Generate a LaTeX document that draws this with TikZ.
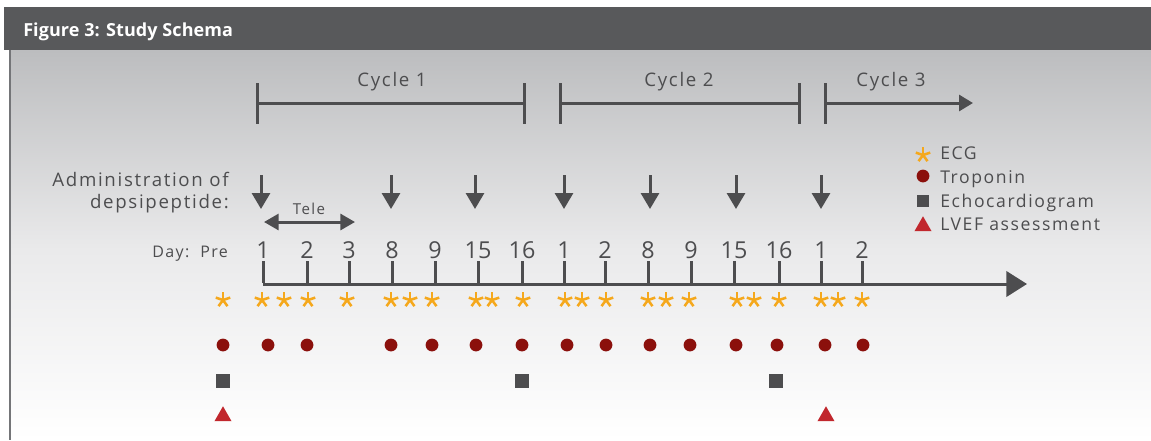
\documentclass[tikz,border=0pt]{standalone}
\usepackage{fontspec}
\setmainfont{Open Sans}[LetterSpace=9]
\newfontfamily\numfont{Open Sans}
\newfontfamily\titlefont{Open Sans}[LetterSpace=0.5]
\usetikzlibrary{arrows.meta}

\definecolor{hdr}{HTML}{58595B}
\definecolor{ink}{HTML}{4D4D4F}
\definecolor{ecg}{HTML}{F5A81C}
\definecolor{trop}{HTML}{8B100C}
\definecolor{lvef}{HTML}{C1272D}
\definecolor{bgtop}{HTML}{BCBDBF}
\definecolor{bgmid}{HTML}{EAEAEB}
\definecolor{frame}{HTML}{747578}

\newcommand{\fs}[1]{\fontsize{#1}{1.2\dimexpr#1\relax}\selectfont}

\tikzset{
  bar/.style={draw=ink, line width=2.25pt},
  admin/.style={draw=ink, line width=2.25pt, -{Triangle[length=12pt,width=13.5pt]}},
  tele/.style={draw=ink, line width=2.25pt, {Triangle[length=11pt,width=12pt]}-{Triangle[length=11pt,width=12pt]}},
  axis/.style={draw=ink, line width=2.25pt, -{Triangle[length=15.5pt,width=19pt]}},
  cyclearrow/.style={draw=ink, line width=2.25pt, -{Triangle[length=10.5pt,width=12pt]}},
  lbl/.style={text=ink, inner sep=0pt, font=\fs{14pt}},
  daynum/.style={text=ink, inner sep=0pt, anchor=base, font=\numfont\fs{17.5pt}},
  dot/.style={circle, fill=trop, inner sep=0pt, minimum size=9.6pt},
  echo/.style={rectangle, fill=ink, inner sep=0pt, minimum size=9.8pt},
  ecgstar/.pic={
    \foreach \a in {90,162,18,234,306}
      \draw[ecg, line width=1.9pt] (0,0) -- (\a:5.7pt);
  },
  lveftri/.pic={
    \fill[lvef] (-6.4pt,-5.4pt) -- (6.4pt,-5.4pt) -- (0,5.8pt) -- cycle;
  },
}

\begin{document}
\begin{tikzpicture}[x=0.75pt, y=-0.75pt]
\useasboundingbox (0,0) rectangle (1151,440);

% panel background and frame
\fill[white] (0,0) rectangle (1151,440);
\shade[top color=bgtop, bottom color=bgmid] (9,50) rectangle (1151,250);
\shade[top color=bgmid, bottom color=white] (9,250) rectangle (1151,440);
\draw[frame, line width=1.6pt] (10,50) -- (10,440);

% title bar
\fill[hdr] (4,7) rectangle (1151,50);
\node[anchor=base west, inner sep=0pt, text=white, font=\titlefont\bfseries\fs{13.5pt}] (title) at (23,36) {Figure 3: Study Schema};

% treatment cycles
\coordinate (c1a) at (257,103); \coordinate (c1b) at (524,103);
\coordinate (c2a) at (560,103); \coordinate (c2b) at (799,103);
\coordinate (c3a) at (825,103); \coordinate (c3b) at (973,103);
\draw[bar] (c1a) -- (c1b);
\draw[bar] (c2a) -- (c2b);
\draw[cyclearrow] (c3a) -- (c3b);
\foreach \c in {c1a,c1b,c2a,c2b,c3a}
  \draw[bar] ([yshift=15pt]\c) -- ([yshift=-15.5pt]\c);
\node[lbl, anchor=base] (cyc1) at (392,86) {Cycle 1};
\node[lbl, anchor=base] (cyc2) at (679,86) {Cycle 2};
\node[lbl, anchor=base] (cyc3) at (891,86) {Cycle 3};

% drug administration
\node[lbl, anchor=base east] (adm1) at (229,186) {Administration of};
\node[lbl, anchor=base east] (adm2) at (229,208) {depsipeptide:};
\foreach \x [count=\i] in {261,391,475,564,650,736,821} {
  \coordinate (ad\i) at (\x,175);
  \coordinate (ae\i) at (\x,209);
  \draw[admin] (ad\i) -- (ae\i);
}

% telemetry window
\coordinate (tl) at (264,222); \coordinate (tr) at (355,222);
\draw[tele] (tl) -- (tr);
\node[lbl, anchor=base, font=\fs{11.3pt}] (tele) at (309,214) {Tele};

% study days
\node[lbl, anchor=base west, font=\fs{12pt}] (day) at (152,257) {Day:};
\node[lbl, anchor=base west, font=\fs{12pt}] (pre) at (200,257) {Pre};
\coordinate (ax0) at (263,284);
\coordinate (ax1) at (1027,284);
\draw[axis] (ax0) -- (ax1);
\foreach \x/\d [count=\i] in {263/1,307/2,349/3,392/8,435/9,478/15,522/16,564/1,605/2,648/8,691/9,734/15,779/16,821/1,862/2} {
  \coordinate (tk\i) at (\x,284);
  \draw[bar] ([yshift=1.1pt]tk\i) -- ++(0,-22);
  \node[daynum] (dn\i) at (\x,258) {\d};
}

% ECG recordings
\foreach \x in {223,262,284,308,347,391,410,432,476,492,523,565,582,606,648,666,689,737,754,779,821,838,862}
  \pic at (\x,300) {ecgstar};

% troponin samples
\foreach \x [count=\i] in {223,268,307,391,432,476,522,567,606,650,690,736,777,825,863}
  \node[dot] (tp\i) at (\x,345) {};

% echocardiograms
\node[echo] (ec1) at (223,381) {};
\node[echo] (ec2) at (522,381) {};
\node[echo] (ec3) at (776,381) {};

% LVEF assessments
\pic at (223,414) {lveftri};
\pic at (826,414) {lveftri};

% legend
\pic at (923,155) {ecgstar};
\node[dot] (lg2) at (923,176) {};
\node[echo, minimum size=9pt] (lg3) at (923,201) {};
\pic at (923,224) {lveftri};
\node[lbl, anchor=base west, font=\fs{13.2pt}] (lt1) at (940,159) {ECG};
\node[lbl, anchor=base west, font=\fs{13.2pt}] (lt2) at (940,183) {Troponin};
\node[lbl, anchor=base west, font=\fs{13.2pt}] (lt3) at (940,207) {Echocardiogram};
\node[lbl, anchor=base west, font=\fs{13.2pt}] (lt4) at (940,230) {LVEF assessment};
\end{tikzpicture}
\end{document}
